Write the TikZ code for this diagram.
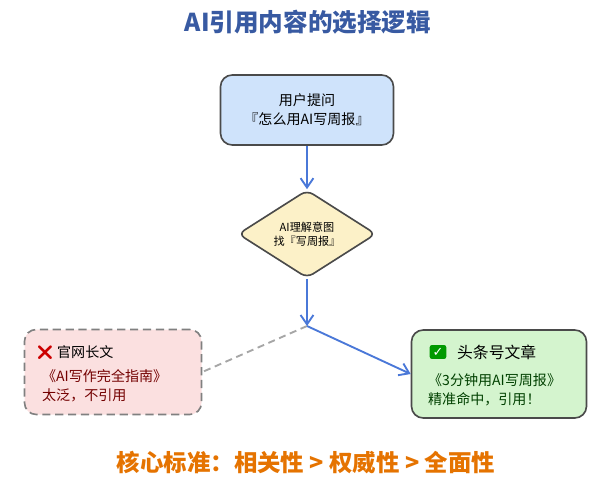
\documentclass[tikz,border=0pt]{standalone}
\usepackage{fontspec}
\setmainfont{Noto Sans CJK SC}
\newfontfamily\emojifont{Noto Emoji}
\newfontfamily\symfont{DejaVu Sans}
\usetikzlibrary{shapes.geometric,arrows.meta}
\definecolor{flowblue}{HTML}{4A78D8}
\definecolor{boxline}{HTML}{4A4A4A}
\definecolor{askfill}{HTML}{CFE3FB}
\definecolor{intentfill}{HTML}{FCF1C8}
\definecolor{leftfill}{HTML}{FBE0E0}
\definecolor{rightfill}{HTML}{D4F4CE}
\tikzset{
  flowbox/.style={draw=boxline, line width=1.4pt, rounded corners=10pt, align=center},
  flowarrow/.style={draw=flowblue, line width=1.6pt, -{Straight Barb[length=8pt,width=11pt]}}
}
\begin{document}
\begin{tikzpicture}[x=0.03cm,y=-0.03cm]
  \useasboundingbox (0,0) rectangle (616,500);
  % title
  \node[text=flowblue!75!black, font=\fontsize{21}{24}\selectfont\bfseries] (title) at (308,22) {\textit{AI}引用内容的选择逻辑};
  % nodes
  \node[flowbox, fill=askfill, minimum width=173*0.03cm, minimum height=70*0.03cm,
        font=\fontsize{12}{16}\selectfont] (ask) at (307,110) {用户提问\\『怎么用\textit{AI}写周报』};
  \node[diamond, draw=boxline, line width=1.4pt, rounded corners=6pt, fill=intentfill,
        minimum width=138*0.03cm, minimum height=88*0.03cm, inner sep=0pt, aspect=1.6,
        align=center, font=\fontsize{9.5}{12}\selectfont] (intent) at (307,234) {\textit{AI}理解意图\\找『写周报』};
  \coordinate (fork) at (307,326);
  \node[flowbox, dashed, dash pattern=on 7pt off 4pt, draw=gray, fill=leftfill, minimum width=177*0.03cm, minimum height=85*0.03cm] (left) at (113,372) {};
  \node[flowbox, fill=rightfill, minimum width=175*0.03cm, minimum height=88*0.03cm] (right) at (499,374) {};
  % box texts
  \node[anchor=west, font=\fontsize{12}{14}\selectfont] at (32,353) {{\emojifont\color{red!80!black}❌}\ 官网长文};
  \node[anchor=west, font=\fontsize{12}{16}\selectfont, text=red!45!black, align=left] at (38,386) {《\textit{AI}写作完全指南》\\太泛，不引用};
  \node[fill=green!60!black, rounded corners=2pt, text=white, inner sep=2.5pt, font=\symfont\fontsize{11}{12}\selectfont\bfseries] (tick) at (438,352) {✓};
  \node[anchor=west, font=\fontsize{13.5}{14}\selectfont] at (453,352) {头条号文章};
  \node[anchor=west, font=\fontsize{12}{16}\selectfont, text=green!25!black, align=left] at (424,390) {《3分钟用\textit{AI}写周报》\\精准命中，引用！};
  % connectors
  \draw[flowarrow] (ask) -- (intent);
  \draw[flowarrow] (intent) -- (fork);
  \draw[gray!70, dashed, dash pattern=on 6pt off 4pt, line width=1.6pt] (fork) -- (left.east);
  \draw[flowarrow] (fork) -- (right.west);
  % footer
  \node[text=orange!90!black, font=\fontsize{20}{24}\selectfont\bfseries] (rule) at (306,463) {核心标准：相关性 > 权威性 > 全面性};
\end{tikzpicture}
\end{document}
